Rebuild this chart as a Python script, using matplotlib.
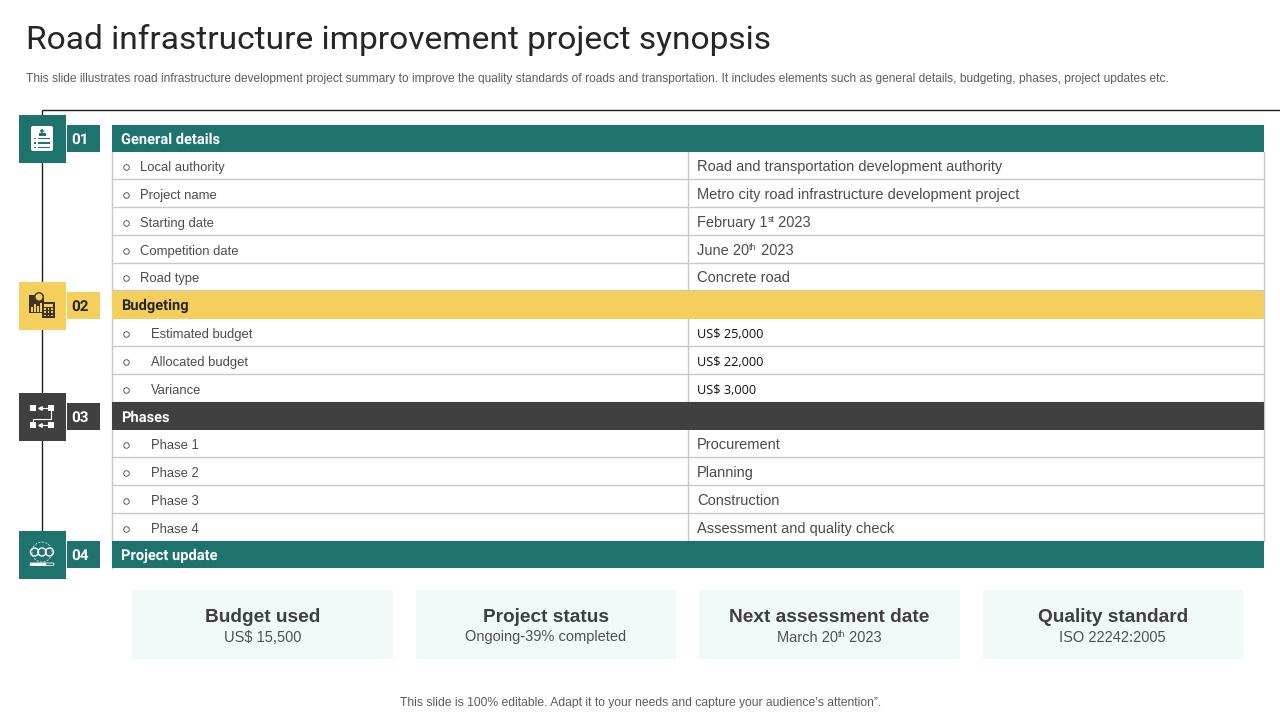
import matplotlib
matplotlib.use('Agg')
import matplotlib.pyplot as plt
from matplotlib.patches import Rectangle, Circle, FancyBboxPatch

plt.rcParams['text.hinting'] = 'no_autohint'

# Dane slajdu
title = 'Road infrastructure improvement project synopsis'
subtitle = ('This slide illustrates road infrastructure development project summary to improve the quality '
            'standards of roads and transportation. It includes elements such as general details, budgeting, '
            'phases, project updates etc.')
footer = 'This slide is 100% editable. Adapt it to your needs and capture your audience\u2019s attention\u201d.'

general_labels = ['Local authority', 'Project name', 'Starting date', 'Competition date', 'Road type']
general_values = ['Road and transportation development authority',
                  'Metro city road infrastructure development project',
                  ('February 1', 'st', ' 2023'), ('June 20', 'th', ' 2023'), 'Concrete road']
budget_labels = ['Estimated budget', 'Allocated budget', 'Variance']
budget_values = ['US$ 25,000', 'US$ 22,000', 'US$ 3,000']
phase_labels = ['Phase 1', 'Phase 2', 'Phase 3', 'Phase 4']
phase_values = ['Procurement', 'Planning', 'Construction', 'Assessment and quality check']

section_names = ['General details', 'Budgeting', 'Phases', 'Project update']
section_numbers = ['01', '02', '03', '04']
card_titles = ['Budget used', 'Project status', 'Next assessment date', 'Quality standard']
card_values = ['US$ 15,500', 'Ongoing-39% completed', ('March 20', 'th', ' 2023'), 'ISO 22242:2005']

TEAL = '#1f736e'
YELLOW = '#f5cf5b'
DARK = '#404040'
GREY = '#c8c8c8'
TEXT = '#404040'
NARROW = ['Roboto', 'DejaVu Sans']
SANS = ['Liberation Sans', 'DejaVu Sans']

fig = plt.figure(figsize=(12.8, 7.2), dpi=100)
ax = fig.add_axes([0, 0, 1, 1])
ax.set_xlim(0, 1280)
ax.set_ylim(720, 0)
ax.axis('off')
renderer = fig.canvas.get_renderer()


def rect(x0, y0, x1, y1, color, z=2):
    ax.add_patch(Rectangle((x0, y0), x1 - x0, y1 - y0, fc=color, ec='none', zorder=z))


def put(x, y, s, size, color=TEXT, family=SANS, weight='normal', ha='left'):
    # s moze byc krotka: tekst, indeks gorny, reszta
    y = y + 1.5
    if isinstance(s, str):
        return ax.text(x, y, s, fontsize=size, color=color, family=family, weight=weight,
                       ha=ha, va='center', zorder=5)
    parts = []
    widths = []
    for part, fs in zip(s, (size, size * 0.62, size)):
        t = ax.text(0, 0, part.replace(' ', '\u00a0'), fontsize=fs, color=color, family=family,
                    va='center', zorder=5)
        parts.append(t)
        widths.append(t.get_window_extent(renderer).width)
    cx = x
    if ha == 'center':
        cx = x - sum(widths) / 2
    for i, t in enumerate(parts):
        t.set_position((cx, y - 3 if i == 1 else y))
        cx += widths[i]


# Naglowek
put(26, 38, title, 24.1, color='#262626', family=NARROW)
put(26, 76.5, subtitle, 8.68, color='#595959')
put(640.5, 700.5, footer, 8.74, color='#595959', ha='center')

# Linia osi czasu
ax.plot([42, 42, 1280], [530, 110, 110], color='#202020', lw=1, zorder=1,
        solid_joinstyle='miter')

# Tabela
table_x0, table_mid, table_x1 = 112, 687.5, 1264
sections = [(general_labels, general_values, TEAL, 'white', 0),
            (budget_labels, budget_values, YELLOW, '#262626', 11),
            (phase_labels, phase_values, DARK, 'white', 11),
            ([], [], TEAL, 'white', 0)]
row_h = 27.75
y = 125
rect(table_x0, 125, table_x1, 568, 'white', z=1)
for sec, (labels, values, color, fg, indent) in enumerate(sections):
    head_h = 27 if sec in (0, 3) else 28
    rect(table_x0, y, table_x1, y + head_h, color, z=3)
    put(121, y + head_h / 2, section_names[sec], 10.5, color=fg, family=NARROW, weight='bold')
    y += head_h
    for label, value in zip(labels, values):
        ax.plot([table_x0, table_x1], [y + row_h - 0.5, y + row_h - 0.5], color=GREY, lw=1, zorder=2)
        ax.plot(125.5, y + row_h / 2 + 1.5, marker='o', ms=4, mfc='white', mec='#404040', mew=0.6, zorder=5)
        put(140 + indent, y + row_h / 2 + 0.5, label, 9.4, color='#4a4a4a')
        if sec == 1:
            put(697, y + row_h / 2 + 0.5, value, 9.2, color='#111111', family=['Open Sans', 'DejaVu Sans'])
        else:
            put(697, y + row_h / 2, value, 10.5, color='#4a4a4a')
        y += row_h
ax.plot([table_x0 - 0.5, table_x0 - 0.5], [152, 568], color=GREY, lw=1, zorder=2)
ax.plot([table_x1, table_x1], [152, 541], color=GREY, lw=1, zorder=2)
for y0, y1 in [(152, 291), (319, 402), (430, 541)]:
    ax.plot([table_mid, table_mid], [y0, y1], color=GREY, lw=1, zorder=2)

# Kwadraty z numerami i ikonami
box_tops = [115, 282, 393, 531]
box_colors = [TEAL, YELLOW, DARK, TEAL]
num_colors = ['white', '#262626', 'white', 'white']
for top, color, num, fg in zip(box_tops, box_colors, section_numbers, num_colors):
    rect(19, top, 66, top + 48, color, z=3)
    rect(67, top + 10, 100, top + 37, color, z=3)
    put(80, top + 23.5, num, 11, color=fg, family=NARROW, weight='bold', ha='center')

# Ikona 01: karta z lista
ax.add_patch(FancyBboxPatch((31, 126), 22, 25, boxstyle='round,pad=0,rounding_size=2', fc='white', ec='none', zorder=4))
ax.add_patch(Circle((42, 131), 1.8, fc=TEAL, ec='none', zorder=5))
rect(38.5, 133, 45.5, 136, TEAL, z=5)
for ly in (138.5, 143, 147.5):
    rect(34, ly - 0.7, 36, ly + 0.7, TEAL, z=5)
    rect(38, ly - 0.7, 50, ly + 0.7, TEAL, z=5)

# Ikona 02: budynek i kalkulator
rect(29, 295, 44, 313, '#3c3526', z=4)
ax.add_patch(Circle((39, 297), 4.2, fc=YELLOW, ec='#3c3526', lw=1, zorder=5))
for bx, bh in zip((31, 34, 37, 40), (5, 8, 6, 9)):
    rect(bx, 312 - bh, bx + 2, 312, YELLOW, z=5)
rect(42, 302, 55, 318, '#3c3526', z=6)
rect(44, 304, 53, 306.5, YELLOW, z=7)
for gy in (309, 312.2, 315.4):
    for gx in (44, 47.7, 51.4):
        rect(gx, gy - 0.8, gx + 1.7, gy + 0.8, YELLOW, z=7)

# Ikona 03: schemat krokow
for (bx, by) in [(30, 405), (48, 405), (30, 422), (48, 422)]:
    rect(bx, by, bx + 6, by + 6, 'white', z=4)
for xs, ys in [((47, 40), (408, 408)), ((51, 51, 33, 33), (411, 419, 419, 422)), ((47, 40), (425, 425))]:
    ax.plot(xs, ys, color='white', lw=0.8, zorder=4)
ax.plot([40, 40], [408, 425], ls='none', marker='<', ms=2.5, color='white', zorder=4)

# Ikona 04: kola zebate i pasek
for cx in (34.5, 42, 49.5):
    ax.add_patch(Circle((cx, 552), 4, fc='none', ec='white', lw=1, zorder=4))
ax.add_patch(Circle((42, 552), 10, fc='none', ec='white', lw=0.5, ls=(0, (3, 2)), zorder=4))
ax.add_patch(FancyBboxPatch((30, 563), 24, 2.5, boxstyle='round,pad=0,rounding_size=1.2', fc='none', ec='white', lw=0.6, zorder=4))
rect(30, 563, 46, 565.5, 'white', z=5)

# Karty na dole
card_x = [132, 416, 699, 982.5]
card_w = [261, 260, 261, 260.5]
for x0, w, head, val in zip(card_x, card_w, card_titles, card_values):
    rect(x0, 590, x0 + w, 659, '#f0f9f8', z=1)
    put(x0 + w / 2, 615.5, head, 13.7, color='#3f3f3f', weight='bold', ha='center')
    put(x0 + w / 2, 636, val, 10.5, color='#505050', ha='center')

fig.savefig('out.png', dpi=100)
